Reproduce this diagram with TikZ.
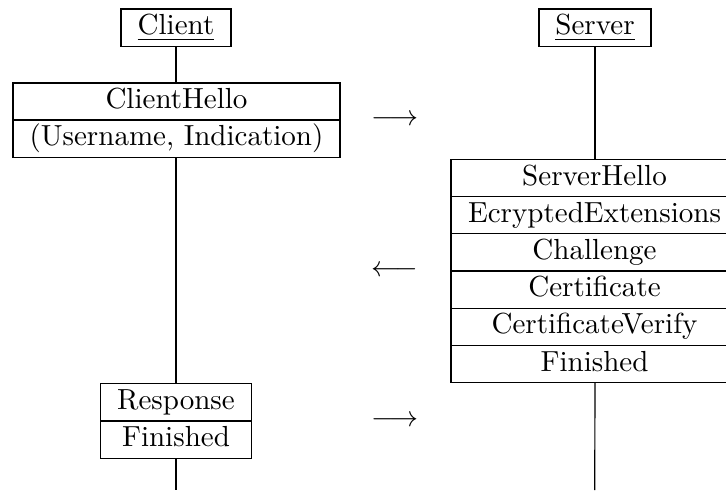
\documentclass[tikz,border=0pt]{standalone}
\usepackage{amsmath}
\begin{document}
\begin{tikzpicture}[x=0.3444pt, y=-0.3444pt,
  box/.style={draw, inner xsep=0pt, inner ysep=0pt, outer sep=0pt,
    text height=8.9pt, text depth=3.9pt, minimum height=12.8pt},
  msg/.style={inner sep=0pt},
  life/.style={draw}]
\clip (0,0) rectangle (726,490);

% participants
\node[box, minimum width=37.9pt] (client) at (176,27.5) {\underline{Client}};
\node[box, minimum width=38.6pt] (server) at (595,27.5) {\underline{Server}};

% client's first flight
\node[box, minimum width=112.6pt] (ch1) at (176.5,101.5) {ClientHello};
\node[box, minimum width=112.6pt] (ch2) at (176.5,138.5) {(Username, Indication)};

% server's flight
\node[box, minimum width=98.8pt] (sv1) at (594.5,177.9) {ServerHello};
\node[box, minimum width=98.8pt] (sv2) at (594.5,215.1) {EcryptedExtensions};
\node[box, minimum width=98.8pt] (sv3) at (594.5,252.3) {Challenge};
\node[box, minimum width=98.8pt] (sv4) at (594.5,289.5) {Certificate};
\node[box, minimum width=98.8pt] (sv5) at (594.5,326.7) {CertificateVerify};
\node[box, minimum width=98.8pt] (sv6) at (594.5,363.9) {Finished};

% client's second flight
\node[box, minimum width=52.2pt] (rs1) at (176,402) {Response};
\node[box, minimum width=52.2pt] (rs2) at (176,439.6) {Finished};

% direction marks
\node[msg] (m1) at (395,120) {$\longrightarrow$};
\node[msg] (m2) at (395,270.7) {$\longleftarrow$};
\node[msg] (m3) at (395,421) {$\longrightarrow$};

% lifelines
\coordinate (cend) at (176,490);
\coordinate (send) at (594.7,490);
\draw (client.south) -- (ch1.north -| client.south);
\draw (ch2.south -| client.south) -- (rs1.north -| client.south);
\draw (rs2.south -| client.south) -- (cend);
\draw (server.south) -- (sv1.north -| server.south);
\draw (sv6.south -| server.south) -- (send);
\end{tikzpicture}
\end{document}
